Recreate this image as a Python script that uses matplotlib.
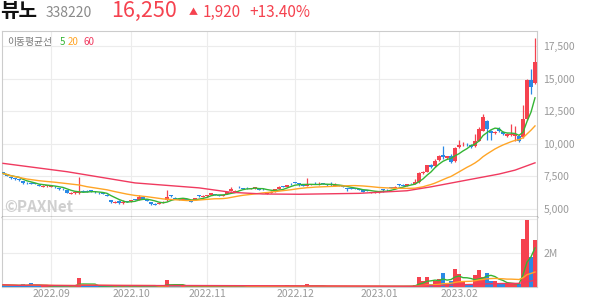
import pandas as pd
from matplotlib import pyplot as plt

# daily candles, index 0 = 2022-08-16 ... 133 = 2023-02-27
opens = [
    7800, 7700, 7450, 7350, 7300, 7150, 7000, 7000, 6960, 6850,
    6700, 6750, 6720, 6720, 6600, 6560, 6450, 6150, 6200, 6250,
    6400, 6380, 6420, 6330, 6260, 6200, 6100, 5700, 5480, 5650,
    5450, 5600, 5600, 5750, 5700, 5900, 5750, 5500, 5400, 5380,
    5480, 5700, 6050, 5880, 5760, 5700, 5740, 5640, 5700, 6050,
    5950, 5980, 6080, 6150, 6050, 6000, 6150, 6400, 6300, 6720,
    6600, 6620, 6520, 6580, 6560, 6560, 6150, 6250, 6350, 6520,
    6760, 6720, 6950, 7060, 6960, 6850, 6800, 6850, 7010, 6860,
    6960, 6900, 6880, 6780, 6820, 6760, 6600, 6580, 6600, 6540,
    6420, 6420, 6250, 6260, 6280, 6500, 6480, 6680, 6620, 6880,
    6850, 6800, 7000, 6900, 7050, 7750, 7850, 8400, 8300, 8750,
    9150, 8900, 9100, 8650, 9750, 9950, 10000, 9900, 9800, 10250,
    11000, 11750, 10950, 10800, 11100, 10900, 10600, 10650, 10600, 10600,
    10500, 11900, 14900, 14700,
]
closes = [
    7730, 7560, 7350, 7300, 7220, 6960, 6960, 6950, 6910, 6760,
    6780, 6810, 6780, 6660, 6510, 6510, 6260, 6230, 6270, 6330,
    6330, 6330, 6380, 6270, 6200, 6150, 6000, 5500, 5560, 5450,
    5560, 5540, 5690, 5700, 5950, 5800, 5630, 5380, 5330, 5480,
    5560, 5900, 5990, 5800, 5700, 5720, 5700, 5560, 5820, 5990,
    6000, 6070, 6200, 6100, 6000, 6050, 6270, 6550, 6400, 6660,
    6530, 6580, 6580, 6660, 6480, 6500, 6230, 6330, 6510, 6700,
    6700, 6830, 6890, 7010, 6890, 6780, 6860, 6910, 6960, 6910,
    6910, 6830, 6840, 6830, 6760, 6700, 6500, 6530, 6560, 6480,
    6330, 6380, 6300, 6320, 6330, 6450, 6430, 6630, 6700, 6830,
    6780, 6910, 6960, 7050, 7750, 7850, 8350, 8200, 8700, 9100,
    8950, 9050, 8600, 9700, 9900, 10000, 9950, 9750, 10250, 11150,
    12050, 11100, 10800, 10900, 10950, 10750, 10750, 10750, 10750, 10250,
    11900, 14900, 14330, 16250,
]
highs = [
    7850, 7720, 7480, 7400, 7330, 7180, 7050, 7060, 7000, 6880,
    6820, 6850, 6820, 6750, 6620, 6590, 6470, 6280, 6300, 7420,
    6450, 6420, 6460, 6360, 6290, 6240, 6130, 5720, 5620, 5680,
    5700, 5640, 5720, 5780, 6050, 5920, 5780, 5530, 5430, 5520,
    5600, 6450, 6100, 5920, 5790, 5760, 5770, 5660, 5850, 6080,
    6040, 6100, 6240, 6180, 6080, 6080, 6300, 6700, 6440, 6760,
    6630, 6660, 6610, 6700, 6600, 6590, 6270, 6360, 6540, 6730,
    6790, 6860, 6980, 7100, 7000, 6880, 7350, 6950, 7040, 7100,
    6990, 6930, 7100, 7000, 6850, 6790, 6630, 6610, 6630, 6570,
    6450, 6450, 6330, 6350, 6370, 6530, 6510, 6710, 6730, 6910,
    6880, 6940, 7030, 7300, 7830, 7950, 8400, 8450, 8850, 9150,
    9820, 9100, 9200, 9750, 10300, 10100, 10050, 9950, 10750, 11250,
    12300, 11800, 11050, 10950, 11300, 10950, 10800, 11550, 11400, 10650,
    13000, 14950, 15700, 18150,
]
lows = [
    7680, 7530, 7320, 7260, 7180, 6930, 6920, 6900, 6880, 6730,
    6680, 6720, 6700, 6630, 6480, 6480, 6230, 6120, 6170, 6150,
    6300, 6300, 6340, 6240, 6160, 6120, 5970, 5450, 5440, 5420,
    5420, 5500, 5570, 5660, 5680, 5770, 5600, 5340, 5300, 5360,
    5450, 5650, 5950, 5770, 5670, 5680, 5670, 5530, 5680, 5950,
    5920, 5950, 6060, 6060, 5970, 5980, 6130, 6380, 6280, 6620,
    6500, 6550, 6500, 6560, 6420, 6470, 6120, 6230, 6330, 6500,
    6670, 6700, 6860, 6980, 6750, 6750, 6780, 6830, 6920, 6840,
    6880, 6800, 6800, 6760, 6730, 6670, 6350, 6500, 6530, 6450,
    6300, 6350, 6230, 6240, 6250, 6320, 6400, 6600, 6600, 6800,
    6750, 6780, 6930, 6880, 7030, 7700, 7820, 8150, 8250, 8700,
    8800, 8850, 8500, 8600, 9700, 9850, 9850, 9700, 9750, 10200,
    10950, 10300, 10300, 10750, 10900, 10700, 10550, 10600, 10200, 10150,
    10450, 11850, 13800, 14600,
]
# volume in millions of shares
volumes = [
    0.13, 0.11, 0.09, 0.08, 0.07, 0.15, 0.08, 0.22, 0.07, 0.06,
    0.06, 0.05, 0.06, 0.05, 0.06, 0.05, 0.07, 0.06, 0.08, 0.55,
    0.12, 0.07, 0.06, 0.05, 0.05, 0.06, 0.05, 0.07, 0.06, 0.05,
    0.06, 0.05, 0.05, 0.05, 0.07, 0.05, 0.05, 0.06, 0.05, 0.05,
    0.05, 0.42, 0.10, 0.06, 0.05, 0.04, 0.04, 0.05, 0.05, 0.05,
    0.04, 0.05, 0.05, 0.04, 0.04, 0.04, 0.05, 0.06, 0.05, 0.05,
    0.04, 0.04, 0.04, 0.04, 0.04, 0.04, 0.04, 0.04, 0.05, 0.05,
    0.04, 0.10, 0.04, 0.04, 0.04, 0.04, 0.18, 0.05, 0.04, 0.04,
    0.04, 0.03, 0.03, 0.04, 0.03, 0.03, 0.04, 0.03, 0.03, 0.03,
    0.04, 0.03, 0.03, 0.03, 0.03, 0.03, 0.03, 0.04, 0.04, 0.04,
    0.04, 0.05, 0.05, 0.14, 0.58, 0.34, 0.58, 0.18, 0.34, 0.46,
    0.81, 0.24, 0.35, 1.07, 0.75, 0.34, 0.20, 0.14, 0.70, 1.00,
    0.58, 0.81, 0.34, 0.34, 0.26, 0.18, 0.18, 0.18, 0.18, 0.18,
    2.85, 3.92, 1.75, 2.79,
]
ma60_days = [0, 16, 33, 49, 57, 65, 74, 89, 101, 107, 116, 124, 128, 133]
ma60_values = [8500, 7860, 7000, 6620, 6280, 6150, 6130, 6200, 6400, 6700,
               7220, 7680, 7980, 8540]

month_days = [12, 32, 51, 73, 94, 114]
month_labels = ["2022.09", "2022.10", "2022.11", "2022.12", "2023.01", "2023.02"]
price_ticks = [5000, 7500, 10000, 12500, 15000, 17500]

UP = "#f5424f"
DOWN = "#2a89e6"
GREEN = "#34b534"
ORANGE = "#ffa526"
CRIMSON = "#f03a5f"
GRID = "#ececec"
FRAME = "#cccccc"
LABEL = "#9a9a9a"

W, H = 594, 304


def fx(px):
    return px / W


def fy(py):
    return 1 - py / H


def main():
    plt.rcParams["font.family"] = ["Noto Sans CJK KR", "DejaVu Sans"]

    days = list(range(len(closes)))
    close_s = pd.Series(closes, dtype=float)
    vol_s = pd.Series(volumes, dtype=float) * 1e6
    colors = [UP if c >= o else DOWN for o, c in zip(opens, closes)]

    figure = plt.figure(figsize=(W / 100, H / 100), dpi=100)
    axis = figure.add_axes([fx(2), fy(217), fx(535), (217 - 30.7) / H])
    vaxis = figure.add_axes([fx(2), fy(287), fx(535), 70 / H], sharex=axis)

    # candles
    axis.vlines(days, lows, highs, colors=colors, linewidth=0.9, zorder=3)
    bottoms = [min(o, c) for o, c in zip(opens, closes)]
    heights = [max(abs(c - o), 50) for o, c in zip(opens, closes)]
    axis.bar(days, heights, bottom=bottoms, width=0.8, color=colors,
             linewidth=0, zorder=4)

    axis.plot(days, close_s.rolling(5, min_periods=1).mean(), color=GREEN,
              linewidth=1.0, zorder=5)
    axis.plot(days, close_s.rolling(20, min_periods=1).mean(), color=ORANGE,
              linewidth=1.0, zorder=5)
    axis.plot(ma60_days, ma60_values, color=CRIMSON, linewidth=1.0, zorder=5)

    axis.set_xlim(-0.25, 133.5)
    axis.set_ylim(4386, 18673)
    axis.set_yticks(price_ticks)
    axis.set_yticklabels([f"{v:,}" for v in price_ticks])
    axis.yaxis.tick_right()
    axis.tick_params(axis="y", length=0, pad=4.5, labelsize=7.5,
                     labelcolor=LABEL)
    axis.tick_params(axis="x", length=0, labelbottom=False)
    axis.set_xticks(month_days)
    axis.grid(True, color=GRID, linewidth=0.8, zorder=0)
    axis.set_axisbelow(True)
    for side in ["top", "left", "right"]:
        axis.spines[side].set_color(FRAME)
        axis.spines[side].set_linewidth(0.8)
    axis.spines["bottom"].set_color("#333333")
    axis.spines["bottom"].set_linewidth(1.0)

    axis.text(fx(4), fy(212.5), "©PAXNet", transform=figure.transFigure,
              fontsize=11, fontweight="bold", color="#cfcfcf", zorder=1)

    # volume
    vaxis.bar(days, vol_s, width=0.8, color=colors, linewidth=0, zorder=3)
    vaxis.plot(days, vol_s.rolling(5, min_periods=1).mean(), color=GREEN,
               linewidth=1.0, zorder=4)
    vaxis.plot(days, vol_s.rolling(20, min_periods=1).mean(), color=ORANGE,
               linewidth=1.0, zorder=4)
    vaxis.plot(days, vol_s.rolling(60, min_periods=1).mean(), color=CRIMSON,
               linewidth=1.0, zorder=4)
    vaxis.set_ylim(0, 4.12e6)
    vaxis.set_yticks([2e6, 4e6])
    vaxis.set_yticklabels(["2M", ""])
    vaxis.yaxis.tick_right()
    vaxis.tick_params(axis="y", length=0, pad=4.5, labelsize=7.5,
                      labelcolor=LABEL)
    vaxis.set_xticks(month_days)
    vaxis.set_xticklabels(month_labels)
    vaxis.tick_params(axis="x", length=0, pad=1.5, labelsize=7.5,
                      labelcolor=LABEL)
    vaxis.grid(True, color=GRID, linewidth=0.8, zorder=0)
    vaxis.set_axisbelow(True)
    vaxis.spines["top"].set_visible(False)
    for side in ["left", "right", "bottom"]:
        vaxis.spines[side].set_color(FRAME)
        vaxis.spines[side].set_linewidth(0.8)

    # header
    figure.text(fx(0), fy(17), "뷰노", fontsize=14.5, fontweight="bold",
                color="#111111", va="baseline")
    figure.text(fx(46), fy(17), "338220", fontsize=10, color="#8a8a8a",
                va="baseline")
    figure.text(fx(111), fy(17), "16,250", fontsize=15.5, color=UP,
                va="baseline")
    figure.text(fx(189), fy(15), "▲", fontsize=6.5, color=UP, va="baseline")
    figure.text(fx(203), fy(17), "1,920", fontsize=11, color=UP,
                va="baseline")
    figure.text(fx(249), fy(17), "+13.40%", fontsize=11, color=UP,
                va="baseline")

    # legend
    figure.text(fx(7), fy(45), "이동평균선", fontsize=7, color="#777777",
                va="baseline")
    figure.text(fx(60), fy(45), "5", fontsize=7, color=GREEN, va="baseline")
    figure.text(fx(68), fy(45), "20", fontsize=7, color=ORANGE, va="baseline")
    figure.text(fx(83), fy(45), "60", fontsize=7, color=CRIMSON, va="baseline")

    figure.savefig("out.png", dpi=100)


if __name__ == "__main__":
    main()
